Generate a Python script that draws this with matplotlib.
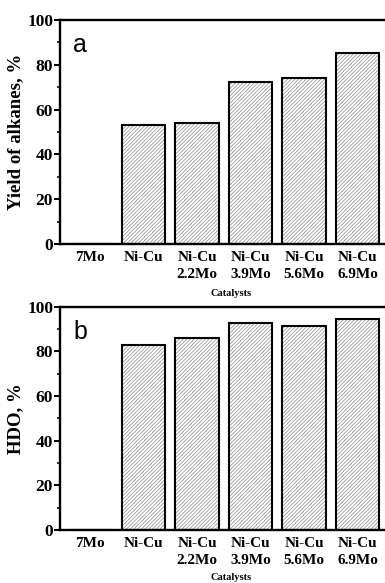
import matplotlib
matplotlib.use("Agg")
import matplotlib.pyplot as plt
from matplotlib.ticker import MultipleLocator

catalysts = ["7Mo", "Ni-Cu", "Ni-Cu\n2.2Mo", "Ni-Cu\n3.9Mo", "Ni-Cu\n5.6Mo", "Ni-Cu\n6.9Mo"]
yield_alkanes = [0, 53, 54, 72.2, 74.3, 85.1]
hdo = [0, 82.8, 85.8, 92.7, 91.2, 94.3]

plt.rcParams['hatch.linewidth'] = 0.5
serif = ['Liberation Serif', 'DejaVu Serif']


def draw_panel(ax, values, ylabel, letter):
    x = range(len(catalysts))
    # hatch first (gray), then black outline on top
    ax.bar(x, values, width=0.82, color='white', edgecolor='#8a8a8a',
           hatch='/////////', linewidth=0)
    ax.bar(x, values, width=0.82, fill=False, edgecolor='black', linewidth=1.5)
    ax.set_xlim(-0.56, 5.6)
    ax.set_ylim(0, 100)
    ax.yaxis.set_major_locator(MultipleLocator(20))
    ax.yaxis.set_minor_locator(MultipleLocator(10))
    ax.set_xticks(list(x))
    ax.set_xticklabels(catalysts, family=serif, fontweight='bold',
                       fontsize=11, linespacing=1.4, va='top')
    for lab in ax.get_yticklabels():
        lab.set_family(serif)
        lab.set_fontweight('bold')
        lab.set_fontsize(12.5)
    ax.tick_params(axis='x', length=0, pad=5)
    ax.tick_params(axis='y', which='major', direction='out', length=4, width=1.4, pad=1)
    ax.tick_params(axis='y', which='minor', direction='out', length=2, width=1.1)
    for s in ax.spines.values():
        s.set_linewidth(1.7)
    ax.set_ylabel(ylabel, family=serif, fontweight='bold', fontsize=13.5, labelpad=2)
    ax.text(0.04, 0.94, letter, transform=ax.transAxes, fontsize=18,
            family=['Liberation Sans', 'DejaVu Sans'], va='top', ha='left')


fig = plt.figure(figsize=(3.85, 5.83), dpi=100)
ax1 = fig.add_axes([0.156, 0.5815, 0.856, 0.3842])
ax2 = fig.add_axes([0.156, 0.0909, 0.856, 0.383])

draw_panel(ax1, yield_alkanes, 'Yield of alkanes, %', 'a')
draw_panel(ax2, hdo, 'HDO, %', 'b')

fig.text(0.6, 0.497, 'Catalysts', family=serif, fontweight='bold',
         fontsize=7.5, ha='center', va='center')
fig.text(0.6, 0.009, 'Catalysts', family=serif, fontweight='bold',
         fontsize=7.5, ha='center', va='center')

fig.savefig('out.png', dpi=100)
